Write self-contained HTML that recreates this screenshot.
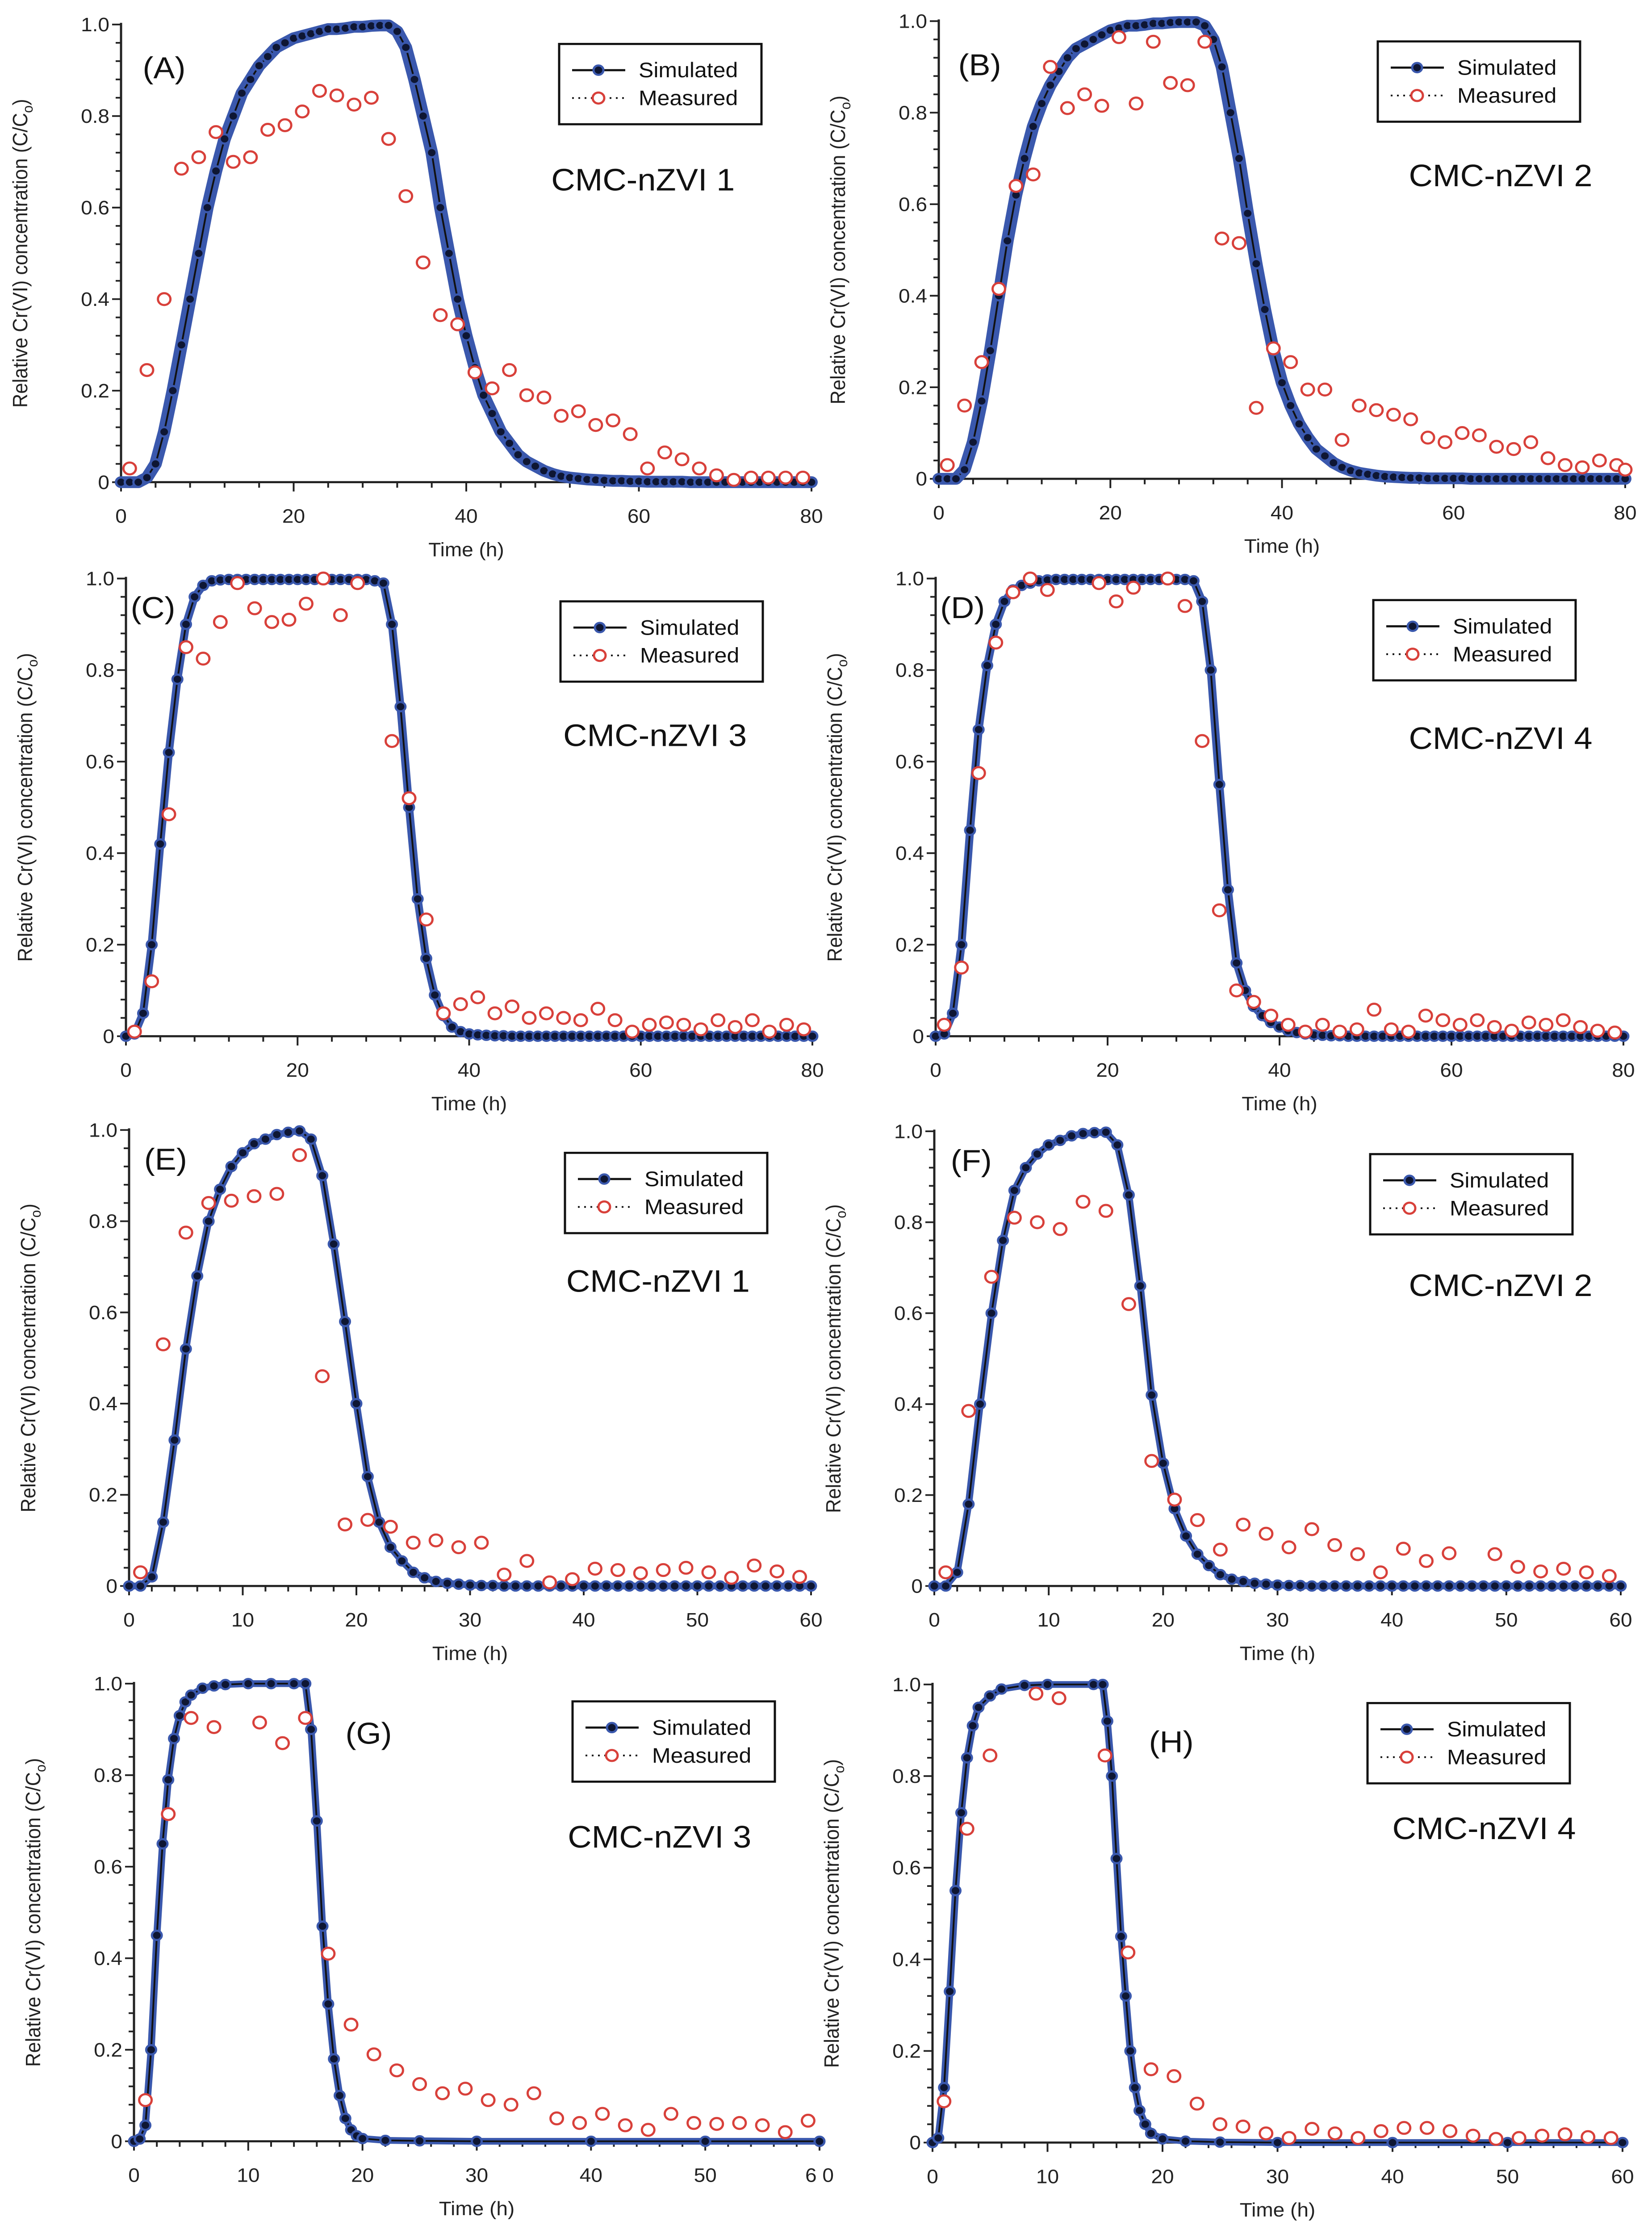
<!DOCTYPE html>
<html><head><meta charset="utf-8"><style>
html,body{margin:0;padding:0;background:#fff;width:100%;height:100%;overflow:hidden;}
svg{display:block;position:fixed;left:0;top:0;width:100vw;height:100vh;font-family:"Liberation Sans",Arial,sans-serif;}
</style></head><body>
<svg id="fig" viewBox="0 0 3699 5284" preserveAspectRatio="none" xmlns="http://www.w3.org/2000/svg"></svg>
<script>
// ---------- DATA ----------
const yTicks = [0, 0.2, 0.4, 0.6, 0.8, 1.0];
const yTickLabels = ["0", "0.2", "0.4", "0.6", "0.8", "1.0"];
const xTicks80 = [0, 20, 40, 60, 80];
const xTicks60 = [0, 10, 20, 30, 40, 50, 60];

// Simulated (A-F at 1 h steps starting at t=0)
const simA = [0,0,0,0.01,0.04,0.11,0.2,0.3,0.4,0.5,0.6,0.68,0.75,0.8,0.85,0.88,0.91,0.93,0.95,0.96,0.97,0.975,0.98,0.985,0.99,0.99,0.992,0.995,0.995,0.997,0.998,0.998,0.985,0.95,0.88,0.8,0.72,0.6,0.5,0.4,0.32,0.25,0.19,0.15,0.11,0.085,0.06,0.045,0.035,0.025,0.018,0.013,0.01,0.008,0.006,0.005,0.004,0.003,0.003,0.002,0.002,0.001,0.001,0.001,0.001,0.001,0,0,0,0,0,0,0,0,0,0,0,0,0,0,0];
const simB = [0,0,0,0.02,0.08,0.17,0.28,0.4,0.52,0.62,0.7,0.77,0.82,0.86,0.89,0.92,0.94,0.95,0.96,0.97,0.98,0.985,0.99,0.99,0.992,0.995,0.995,0.997,0.998,0.998,0.998,0.99,0.96,0.9,0.8,0.7,0.58,0.47,0.37,0.28,0.21,0.16,0.12,0.09,0.065,0.05,0.035,0.025,0.018,0.013,0.01,0.007,0.005,0.004,0.003,0.002,0.002,0.001,0.001,0.001,0.001,0.001,0,0,0,0,0,0,0,0,0,0,0,0,0,0,0,0,0,0,0];
const simC = [0,0.005,0.05,0.2,0.42,0.62,0.78,0.9,0.96,0.985,0.995,0.997,0.998,0.998,0.998,0.998,0.998,0.998,0.998,0.998,0.998,0.998,0.998,0.998,0.998,0.998,0.998,0.998,0.998,0.995,0.99,0.9,0.72,0.5,0.3,0.17,0.09,0.045,0.02,0.01,0.005,0.003,0.002,0.001,0.001,0,0,0,0,0,0,0,0,0,0,0,0,0,0,0,0,0,0,0,0,0,0,0,0,0,0,0,0,0,0,0,0,0,0,0,0];
const simD = [0,0.005,0.05,0.2,0.45,0.67,0.81,0.9,0.95,0.975,0.985,0.99,0.995,0.997,0.998,0.998,0.998,0.998,0.998,0.998,0.998,0.998,0.998,0.998,0.998,0.998,0.998,0.998,0.998,0.998,0.995,0.95,0.8,0.55,0.32,0.16,0.1,0.065,0.045,0.03,0.02,0.012,0.008,0.005,0.003,0.002,0.001,0.001,0,0,0,0,0,0,0,0,0,0,0,0,0,0,0,0,0,0,0,0,0,0,0,0,0,0,0,0,0,0,0,0,0];
const simE = [0,0,0.02,0.14,0.32,0.52,0.68,0.8,0.87,0.92,0.95,0.97,0.98,0.99,0.995,0.998,0.98,0.9,0.75,0.58,0.4,0.24,0.14,0.085,0.055,0.03,0.018,0.01,0.006,0.004,0.002,0.001,0.001,0,0,0,0,0,0,0,0,0,0,0,0,0,0,0,0,0,0,0,0,0,0,0,0,0,0,0,0];
const simF = [0,0,0.03,0.18,0.4,0.6,0.76,0.87,0.92,0.95,0.97,0.98,0.99,0.995,0.997,0.998,0.97,0.86,0.66,0.42,0.27,0.17,0.11,0.07,0.045,0.025,0.015,0.01,0.006,0.004,0.002,0.001,0.001,0,0,0,0,0,0,0,0,0,0,0,0,0,0,0,0,0,0,0,0,0,0,0,0,0,0,0,0];
// Simulated G,H (explicit times)
const simTG = [0,0.5,1,1.5,2,2.5,3,3.5,4,4.5,5,6,7,8,10,12,14,15,15.5,16,16.5,17,17.5,18,18.5,19,19.5,20,22,25,30,40,50,60];
const simVG = [0,0.005,0.035,0.2,0.45,0.65,0.79,0.88,0.93,0.96,0.975,0.99,0.995,0.998,1,1,1,1,0.9,0.7,0.47,0.3,0.18,0.1,0.05,0.025,0.012,0.006,0.002,0.001,0,0,0,0];
const simTH = [0,0.5,1,1.5,2,2.5,3,3.5,4,5,6,8,10,14,14.8,15.2,15.6,16,16.4,16.8,17.2,17.6,18,18.5,19,20,22,25,30,40,50,60];
const simVH = [0,0.01,0.12,0.33,0.55,0.72,0.84,0.91,0.95,0.975,0.99,0.998,1,1,1,0.92,0.8,0.62,0.45,0.32,0.2,0.12,0.07,0.04,0.02,0.008,0.003,0.001,0,0,0,0];

// Measured
const measTA = [1,3,5,7,9,11,13,15,17,19,21,23,25,27,29,31,33,35,37,39,41,43,45,47,49,51,53,55,57,59,61,63,65,67,69,71,73,75,77,79];
const measVA = [0.03,0.245,0.40,0.685,0.71,0.765,0.70,0.71,0.77,0.78,0.81,0.855,0.845,0.825,0.84,0.75,0.625,0.48,0.365,0.345,0.24,0.205,0.245,0.19,0.185,0.145,0.155,0.125,0.135,0.105,0.03,0.065,0.05,0.03,0.015,0.005,0.01,0.01,0.01,0.01];
const measTB = [1,3,5,7,9,11,13,15,17,19,21,23,25,27,29,31,33,35,37,39,41,43,45,47,49,51,53,55,57,59,61,63,65,67,69,71,73,75,77,79,80];
const measVB = [0.03,0.16,0.255,0.415,0.64,0.665,0.9,0.81,0.84,0.815,0.965,0.82,0.955,0.865,0.86,0.955,0.525,0.515,0.155,0.285,0.255,0.195,0.195,0.085,0.16,0.15,0.14,0.13,0.09,0.08,0.1,0.095,0.07,0.065,0.08,0.045,0.03,0.025,0.04,0.03,0.02];
const measTC = [1,3,5,7,9,11,13,15,17,19,21,23,25,27,31,33,35,37,39,41,43,45,47,49,51,53,55,57,59,61,63,65,67,69,71,73,75,77,79];
const measVC = [0.01,0.12,0.485,0.85,0.825,0.905,0.99,0.935,0.905,0.91,0.945,1.0,0.92,0.99,0.645,0.52,0.255,0.05,0.07,0.085,0.05,0.065,0.04,0.05,0.04,0.035,0.06,0.035,0.01,0.025,0.03,0.025,0.015,0.035,0.02,0.035,0.01,0.025,0.015];
const measTD = [1,3,5,7,9,11,13,19,21,23,27,29,31,33,35,37,39,41,43,45,47,49,51,53,55,57,59,61,63,65,67,69,71,73,75,77,79];
const measVD = [0.025,0.15,0.575,0.86,0.97,1.0,0.975,0.99,0.95,0.98,1.0,0.94,0.645,0.275,0.1,0.075,0.045,0.025,0.01,0.025,0.01,0.015,0.058,0.015,0.01,0.045,0.035,0.025,0.035,0.02,0.012,0.03,0.025,0.035,0.02,0.012,0.008];
const measTE = [1,3,5,7,9,11,13,15,17,19,21,23,25,27,29,31,33,35,37,39,41,43,45,47,49,51,53,55,57,59];
const measVE = [0.03,0.53,0.775,0.84,0.845,0.855,0.86,0.945,0.46,0.135,0.145,0.13,0.095,0.1,0.085,0.095,0.025,0.055,0.008,0.015,0.038,0.035,0.028,0.035,0.04,0.03,0.018,0.045,0.032,0.02];
const measTF = [1,3,5,7,9,11,13,15,17,19,21,23,25,27,29,31,33,35,37,39,41,43,45,49,51,53,55,57,59];
const measVF = [0.03,0.385,0.68,0.81,0.8,0.785,0.845,0.825,0.62,0.275,0.19,0.145,0.08,0.135,0.115,0.085,0.125,0.09,0.07,0.03,0.082,0.055,0.072,0.07,0.042,0.032,0.038,0.03,0.022];
const measTG = [1,3,5,7,11,13,15,17,19,21,23,25,27,29,31,33,35,37,39,41,43,45,47,49,51,53,55,57,59];
const measVG = [0.09,0.715,0.925,0.905,0.915,0.87,0.925,0.41,0.255,0.19,0.155,0.125,0.105,0.115,0.09,0.08,0.105,0.05,0.04,0.06,0.035,0.025,0.06,0.04,0.038,0.04,0.035,0.02,0.045];
const measTH = [1,3,5,9,11,15,17,19,21,23,25,27,29,31,33,35,37,39,41,43,45,47,49,51,53,55,57,59];
const measVH = [0.09,0.685,0.845,0.98,0.97,0.845,0.415,0.16,0.145,0.085,0.04,0.035,0.02,0.01,0.03,0.02,0.01,0.025,0.032,0.032,0.025,0.015,0.008,0.01,0.015,0.018,0.012,0.01];

// ---------- LAYOUT (pixels) ----------
const S = 3.363;
const panels = [
 {id:'a',letter:'(A)',label:'CMC-nZVI 1',x0:271,x1:1817,y1:58,y0:1141,xmax:80,sim:simA,mt:measTA,mv:measVA,lx:95,ly:52,cx:367,cy:134,bx:1252,by:104,dense:true},
 {id:'b',letter:'(B)',label:'CMC-nZVI 2',x0:2102,x1:3639,y1:50,y0:1133,xmax:80,sim:simB,mt:measTB,mv:measVB,lx:638,ly:50,cx:938,cy:131,bx:3085,by:98,dense:true},
 {id:'c',letter:'(C)',label:'CMC-nZVI 3',x0:282,x1:1819,y1:1369,y0:2452,xmax:80,sim:simC,mt:measTC,mv:measVC,lx:87,ly:432,cx:375,cy:525,bx:1255,by:1423},
 {id:'d',letter:'(D)',label:'CMC-nZVI 4',x0:2095,x1:3635,y1:1369,y0:2452,xmax:80,sim:simD,mt:measTD,mv:measVD,lx:626,ly:432,cx:938,cy:527,bx:3075,by:1420},
 {id:'e',letter:'(E)',label:'CMC-nZVI 1',x0:289,x1:1816,y1:2674,y0:3753,xmax:60,sim:simE,mt:measTE,mv:measVE,lx:96,ly:820,cx:377,cy:909,bx:1265,by:2728},
 {id:'f',letter:'(F)',label:'CMC-nZVI 2',x0:2092,x1:3629,y1:2677,y0:3753,xmax:60,sim:simF,mt:measTF,mv:measVF,lx:633,ly:821,cx:938,cy:912,bx:3068,by:2731},
 {id:'g',letter:'(G)',label:'CMC-nZVI 3',x0:300,x1:1835,y1:3984,y0:5067,xmax:60,simT:simTG,simV:simVG,mt:measTG,mv:measVG,lx:230,ly:1224,cx:378,cy:1300,bx:1282,by:4026,xlab60:'6 0'},
 {id:'h',letter:'(H)',label:'CMC-nZVI 4',x0:2088,x1:3633,y1:3986,y0:5070,xmax:60,simT:simTH,simV:simVH,mt:measTH,mv:measVH,lx:765,ly:1230,cx:927,cy:1294,bx:3062,by:4030}
];

const NS='http://www.w3.org/2000/svg';
const svg=document.getElementById('fig');
function mk(tag,attrs,parent){const e=document.createElementNS(NS,tag);for(const k in attrs)e.setAttribute(k,attrs[k]);(parent||svg).appendChild(e);return e;}

panels.forEach(p=>{
  const g=mk('g',{});
  
  
  const xs=t=>p.x0+(t/p.xmax)*(p.x1-p.x0);
  const ys=v=>p.y0-v*(p.y0-p.y1);
  for(let v=0;v<=1.0001;v+=0.04){
    const major=Math.abs(v*5-Math.round(v*5))<1e-6;
    const t=mk('line',{x1:p.x0-(major?20:12),x2:p.x0,y1:ys(v),y2:ys(v),stroke:'#222','stroke-width':4},g);
    
    
  }
  const mstep=p.xmax==80?4:2, Mstep=p.xmax==80?20:10;
  for(let t=0;t<=p.xmax;t+=mstep){
    const major=t%Mstep==0;
    const l=mk('line',{x1:xs(t),x2:xs(t),y1:p.y0,y2:p.y0+(major?22:13),stroke:'#222','stroke-width':4},g);
    
    
  }
  const ya=mk('line',{x1:p.x0,x2:p.x0,y1:p.y1-4,y2:p.y0,stroke:'#222','stroke-width':5},g);
  
  
  const xa=mk('line',{x1:p.x0,x2:p.x1,y1:p.y0,y2:p.y0,stroke:'#222','stroke-width':5},g);
  
  
  yTicks.forEach((v,i)=>{
    const tx=mk('text',{x:p.x0-26,y:ys(v)+16,'text-anchor':'end','font-size':46,fill:'#222'},g);
    tx.textContent=yTickLabels[i];
    
    
  });
  (p.xmax==80?xTicks80:xTicks60).forEach(t=>{
    const tx=mk('text',{x:xs(t),y:p.y0+96,'text-anchor':'middle','font-size':46,fill:'#222'},g);
    tx.textContent=(t==60&&p.xlab60)?p.xlab60:String(t);
    
    
  });
  const xt=mk('text',{x:(p.x0+p.x1)/2,y:p.y0+175,'text-anchor':'middle','font-size':46,fill:'#222'},g);
  xt.textContent='Time (h)';
  
  
  const yc=(p.y0+p.y1)/2, yx=p.x0-210;
  const yt=mk('text',{x:yx,y:yc,'text-anchor':'middle','font-size':46,fill:'#222',transform:`rotate(-90 ${yx} ${yc})`},g);
  yt.innerHTML='Relative Cr(VI) concentration (C/C<tspan font-size="32" dy="12">o</tspan><tspan dy="-12">)</tspan>';
  
  
  let T=[],V=[];
  if(p.sim){p.sim.forEach((v,i)=>{T.push(i);V.push(v);});} else {T=p.simT;V=p.simV;}
  const pts=T.map((t,i)=>xs(t).toFixed(1)+','+ys(V[i]).toFixed(1)).join(' ');
  const band=mk('polyline',{points:pts,fill:'none',stroke:'#3a58ad','stroke-width':p.dense?28:(p.xmax==60?16:18),'stroke-linejoin':'round','stroke-linecap':'round'},g);
  
  
  const sl=mk('polyline',{points:pts,fill:'none',stroke:'#111','stroke-width':4},g);
  
  
  T.forEach((t,i)=>{
    const c=mk('circle',{cx:xs(t),cy:ys(V[i]),r:11,fill:'#0e1633',stroke:'#3a58ad','stroke-width':5},g);
    
    
  });
  p.mt.forEach((t,i)=>{
    const c=mk('circle',{cx:xs(t),cy:ys(p.mv[i]),r:14,fill:'#fff',stroke:'#d8403a','stroke-width':5},g);
    
    
  });
  const lt=mk('text',{x:p.lx*S,y:p.ly*S+10,'font-size':72,fill:'#111'},g);
  lt.textContent=p.letter;
  
  
  const cl=mk('text',{x:p.cx*S,y:p.cy*S,'font-size':74,fill:'#111'},g);
  cl.textContent=p.label;
  
  
  const lg=mk('g',{},g);
  
  
  mk('rect',{x:p.bx,y:p.by,width:453,height:190,fill:'#fff',stroke:'#111','stroke-width':5},lg);
  const r1=p.by+62,r2=p.by+128;
  mk('line',{x1:p.bx+29,x2:p.bx+148,y1:r1,y2:r1,stroke:'#111','stroke-width':5},lg);
  mk('circle',{cx:p.bx+88,cy:r1,r:11,fill:'#0e1633',stroke:'#3a58ad','stroke-width':5},lg);
  mk('line',{x1:p.bx+29,x2:p.bx+148,y1:r2,y2:r2,stroke:'#111','stroke-width':4,'stroke-dasharray':'4 10'},lg);
  mk('circle',{cx:p.bx+88,cy:r2,r:13,fill:'#fff',stroke:'#d8403a','stroke-width':5},lg);
  const t1=mk('text',{x:p.bx+178,y:r1+17,'font-size':50,fill:'#111'},lg);
  t1.textContent='Simulated';
  
  
  const t2=mk('text',{x:p.bx+178,y:r2+17,'font-size':50,fill:'#111'},lg);
  t2.textContent='Measured';
  
  
});
</script>
</body></html>
